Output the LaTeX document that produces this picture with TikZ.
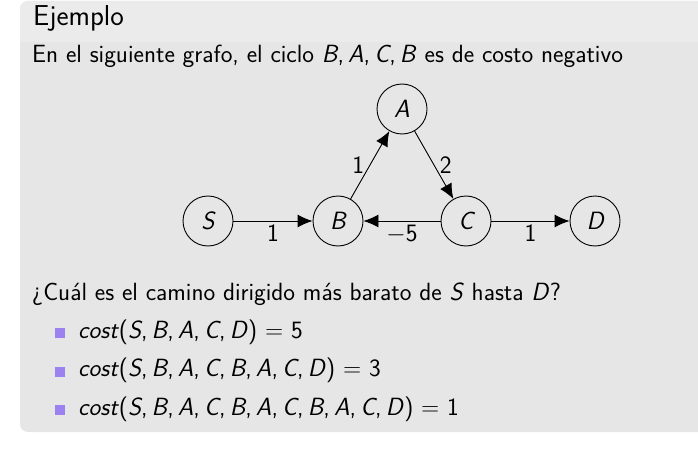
\documentclass[tikz,border=0pt]{standalone}
\usetikzlibrary{arrows.meta}

\definecolor{blockbody}{RGB}{230,230,230}
\definecolor{blocktitle}{RGB}{235,235,235}
\definecolor{itembullet}{RGB}{155,130,240}

\newcommand{\mi}[1]{\textit{#1}}

\tikzset{
	vertex/.style = {draw, circle, minimum size = 50pt, inner sep = 0pt, line width = 0.9pt, font = \fontsize{25}{30}\sffamily\itshape},
	arc/.style = {-{Latex[length = 15pt, width = 13pt]}, line width = 0.9pt},
	weight/.style = {font = \fontsize{25}{30}\sffamily},
	txt/.style = {anchor = base west, inner sep = 0pt, font = \fontsize{24.9}{30}\sffamily}
}

\begin{document}
\begin{tikzpicture}[x = 1pt, y = -1pt]

\useasboundingbox (0,0) rectangle (698,449);

\fill[blockbody, rounded corners = 8pt] (20,1) rectangle (730,432);
\fill[blocktitle] (20,42) [rounded corners = 8pt] -- (20,1) -- (730,1) [sharp corners] -- (730,42) -- cycle;

\node[txt, font = \fontsize{28.8}{34}\sffamily] (title) at (33,26) {Ejemplo};
\node[txt] (intro) at (32,63) {En el siguiente grafo, el ciclo \mi{B},\,\mi{A},\,\mi{C},\,\mi{B} es de costo negativo};

\node[vertex] (S) at (208,221) {S};
\node[vertex] (B) at (338,221) {B};
\node[vertex] (A) at (402,109) {A};
\node[vertex] (C) at (466,221) {C};
\node[vertex] (D) at (595,221) {D};

\draw[arc] (S) -- node[weight, below] {1} (B);
\draw[arc] (B) -- node[weight, left = 2pt] {1} (A);
\draw[arc] (A) -- node[weight, right = 2pt] {2} (C);
\draw[arc] (C) -- node[weight, below] {$-$5} (B);
\draw[arc] (C) -- node[weight, below] {1} (D);

\node[txt] (question) at (32,300) {¿Cuál es el camino dirigido más barato de \mi{S} hasta \mi{D}?};

\foreach \steps[count = \i] in {
	{\mi{S},\,\mi{B},\,\mi{A},\,\mi{C},\,\mi{D}) = 5},
	{\mi{S},\,\mi{B},\,\mi{A},\,\mi{C},\,\mi{B},\,\mi{A},\,\mi{C},\,\mi{D}) = 3},
	{\mi{S},\,\mi{B},\,\mi{A},\,\mi{C},\,\mi{B},\,\mi{A},\,\mi{C},\,\mi{B},\,\mi{A},\,\mi{C},\,\mi{D}) = 1}} {
	\pgfmathsetmacro{\base}{338 + 38.5*(\i-1)}
	\fill[itembullet] (55,\base) rectangle ++(10,-10) coordinate (bullet\i);
	\node[txt] (item\i) at (78,\base) {\mi{cost}(\steps};
}

\end{tikzpicture}
\end{document}
